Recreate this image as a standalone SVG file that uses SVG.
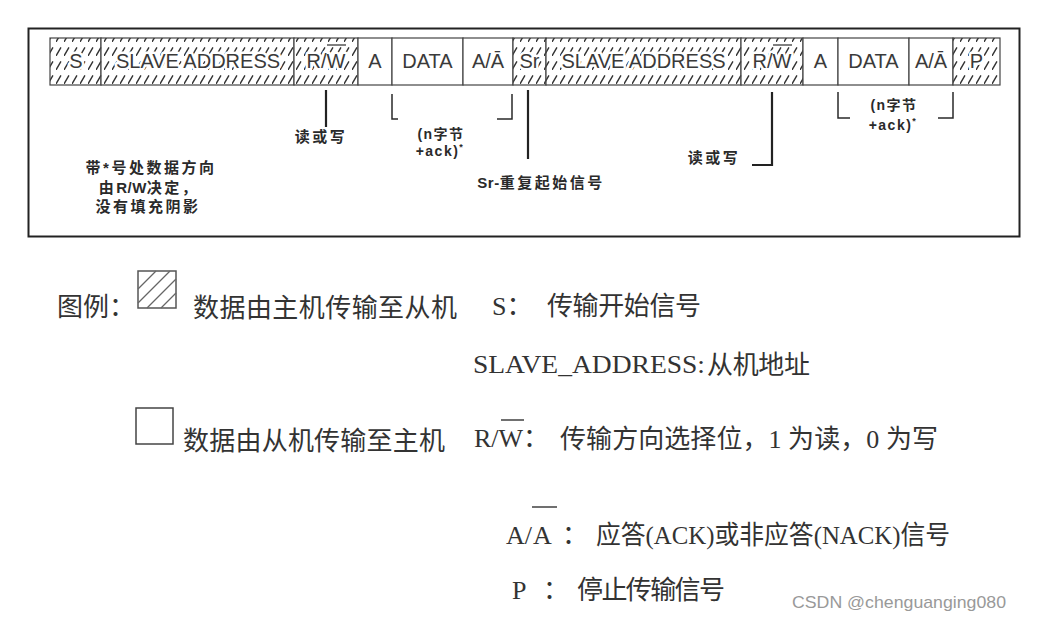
<svg xmlns="http://www.w3.org/2000/svg" width="1051" height="623" viewBox="0 0 1051 623">
<style>
.cell{stroke:#444;stroke-width:1.2}
.hatch{fill:url(#hatch)}
.plain{fill:#fff}
.ct{font-family:"Liberation Sans","Noto Sans CJK SC",sans-serif;font-size:20px;fill:#3a3a3a;text-anchor:middle;stroke:#fff;stroke-width:5px;paint-order:stroke;stroke-linejoin:round}
.ol{stroke:#3a3a3a;stroke-width:1.3}
.ann{font-family:"Liberation Sans","Noto Sans CJK SC",sans-serif;font-size:15px;font-weight:bold;fill:#2a2a2a;text-anchor:middle;letter-spacing:2.5px}
.lat{letter-spacing:0.5px}
.sm{font-family:"Liberation Sans","Noto Sans CJK SC",sans-serif;font-size:14px;font-weight:bold;fill:#2a2a2a;text-anchor:middle;letter-spacing:1.5px}
.conn{stroke:#2a2a2a;stroke-width:1.5;fill:none}
.thick{stroke:#222;stroke-width:2.2;fill:none}
.lg{font-family:"Liberation Serif","Noto Sans CJK SC",serif;font-size:26px;fill:#333}
.lgo{stroke:#333;stroke-width:1.4}
</style>
<defs>
<pattern id="hatch" patternUnits="userSpaceOnUse" width="8" height="14">
<rect width="8" height="14" fill="#fff"/>
<path d="M0,14 L8,0" stroke="#333" stroke-width="1.4" stroke-dasharray="10 6.1"/>
</pattern>
</defs>
<rect width="1051" height="623" fill="#fff"/>
<rect id="frame" x="28.5" y="28.5" width="991" height="208" fill="none" stroke="#222" stroke-width="2"/>

<g id="cell-S"><rect class="cell hatch" x="50" y="38" width="51" height="47"/><text class="ct" x="76" y="68">S</text></g>
<g id="cell-SLAVE1"><rect class="cell hatch" x="101" y="38" width="193" height="47"/><text class="ct" x="198" y="68">SLAVE ADDRESS</text></g>
<g id="cell-RW1"><rect class="cell hatch" x="294" y="38" width="64" height="47"/><text class="ct" x="326" y="68">R/W</text><line class="ol" x1="327" y1="45" x2="346" y2="45"/></g>
<g id="cell-A1"><rect class="cell plain" x="358" y="38" width="34" height="47"/><text class="ct" x="375" y="68">A</text></g>
<g id="cell-DATA1"><rect class="cell plain" x="392" y="38" width="71" height="47"/><text class="ct" x="427.5" y="68">DATA</text></g>
<g id="cell-AA1"><rect class="cell plain" x="463" y="38" width="50" height="47"/><text class="ct" x="488" y="68">A/Ā</text></g>
<g id="cell-Sr"><rect class="cell hatch" x="513" y="38" width="33" height="47"/><text class="ct" x="529.5" y="68">Sr</text></g>
<g id="cell-SLAVE2"><rect class="cell hatch" x="546" y="38" width="195" height="47"/><text class="ct" x="643.5" y="68">SLAVE ADDRESS</text></g>
<g id="cell-RW2"><rect class="cell hatch" x="741" y="38" width="62" height="47"/><text class="ct" x="772" y="68">R/W</text><line class="ol" x1="773" y1="45" x2="792" y2="45"/></g>
<g id="cell-A2"><rect class="cell plain" x="803" y="38" width="35" height="47"/><text class="ct" x="820.5" y="68">A</text></g>
<g id="cell-DATA2"><rect class="cell plain" x="838" y="38" width="71" height="47"/><text class="ct" x="873.5" y="68">DATA</text></g>
<g id="cell-AA2"><rect class="cell plain" x="909" y="38" width="44" height="47"/><text class="ct" x="931" y="68">A/Ā</text></g>
<g id="cell-P"><rect class="cell hatch" x="953" y="38" width="47" height="47"/><text class="ct" x="976.5" y="68">P</text></g>

<g id="connectors">
<line class="thick" x1="326" y1="90" x2="326" y2="127"/>
<polyline class="conn" points="398,119 392,119 392,94"/>
<polyline class="conn" points="497,119 512,119 512,94"/>
<line class="thick" x1="528" y1="90" x2="528" y2="159"/>
<polyline class="thick" points="772,92 772,165 752,165"/>
<polyline class="conn" points="850,118 838,118 838,92"/>
<polyline class="conn" points="938,118 953,118 953,92"/>
</g>

<g id="note-rw1"><text class="ann" x="321" y="142">读或写</text></g>
<g id="note-rep1"><text class="sm" x="441" y="139">(n字节</text><text class="sm" x="440" y="156">+ack)<tspan font-size="9" dy="-6">*</tspan></text></g>
<g id="note-sr"><text class="ann" x="541" y="188"><tspan class="lat">Sr-</tspan>重复起始信号</text></g>
<g id="note-rw2"><text class="ann" x="714" y="163">读或写</text></g>
<g id="note-rep2"><text class="sm" x="894" y="110">(n字节</text><text class="sm" x="893" y="130">+ack)<tspan font-size="9" dy="-6">*</tspan></text></g>
<g id="note-dir"><text class="ann" x="151" y="173">带*号处数据方向</text><text class="ann" x="149" y="193"><tspan>由</tspan><tspan class="lat">R/W</tspan>决定，</text><text class="ann" x="148" y="212">没有填充阴影</text></g>

<g id="legend-hatched">
<text class="lg" x="57" y="316">图例：</text>
<rect x="138" y="271" width="38" height="37" fill="#fff" stroke="#555" stroke-width="1.5"/>
<g stroke="#666" stroke-width="1.2">
<line x1="138" y1="289" x2="156" y2="271"/>
<line x1="138" y1="303" x2="170" y2="271"/>
<line x1="147" y1="308" x2="176" y2="279"/>
<line x1="161" y1="308" x2="176" y2="293"/>
</g>
<text class="lg" x="193" y="317" textLength="264" lengthAdjust="spacing">数据由主机传输至从机</text>
</g>
<g id="legend-plain">
<rect x="136" y="408" width="37" height="36" fill="#fff" stroke="#444" stroke-width="1.5"/>
<text class="lg" x="183" y="450" textLength="262" lengthAdjust="spacing">数据由从机传输至主机</text>
</g>

<g id="def-S"><text class="lg" x="492" y="315">S：</text><text class="lg" x="547" y="315" textLength="154" lengthAdjust="spacing">传输开始信号</text></g>
<g id="def-SLAVE"><text class="lg" x="473" y="373" textLength="232" lengthAdjust="spacingAndGlyphs">SLAVE_ADDRESS:</text><text class="lg" x="707" y="374" textLength="103" lengthAdjust="spacing">从机地址</text></g>
<g id="def-RW"><text class="lg" x="474" y="447">R/W：</text><line class="lgo" x1="501" y1="420" x2="524" y2="420"/><text class="lg" x="560" y="448" textLength="378" lengthAdjust="spacing">传输方向选择位，1 为读，0 为写</text></g>
<g id="def-AA"><text class="lg" x="506" y="544">A/</text><text class="lg" x="533" y="544">A</text><line class="lgo" x1="532" y1="507" x2="557" y2="507"/><text class="lg" x="562" y="544">：</text><text class="lg" x="596" y="544" textLength="354" lengthAdjust="spacingAndGlyphs">应答(ACK)或非应答(NACK)信号</text></g>
<g id="def-P"><text class="lg" x="512" y="599">P</text><text class="lg" x="543" y="599">：</text><text class="lg" x="577" y="599" textLength="148" lengthAdjust="spacing">停止传输信号</text></g>

<text x="792" y="608" font-family="Liberation Sans, sans-serif" font-size="17" fill="#999" textLength="214" lengthAdjust="spacingAndGlyphs">CSDN @chenguanging080</text>
</svg>
